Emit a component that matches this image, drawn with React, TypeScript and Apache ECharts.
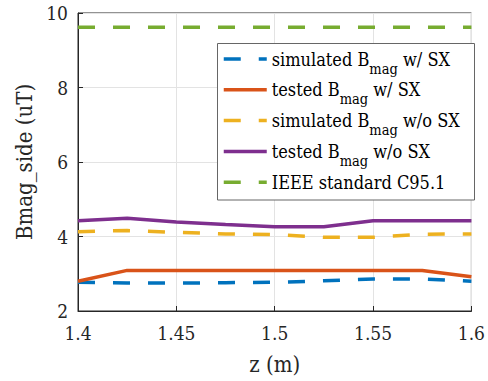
import React, { useEffect, useRef } from "react";
import * as echarts from "echarts";

const zValues = [1.4, 1.425, 1.45, 1.475, 1.5, 1.525, 1.55, 1.575, 1.6];
const simWithSX = [2.77, 2.75, 2.75, 2.76, 2.77, 2.81, 2.86, 2.86, 2.8];
const testWithSX = [2.8, 3.09, 3.09, 3.09, 3.09, 3.09, 3.09, 3.09, 2.92];
const simWithoutSX = [4.13, 4.16, 4.11, 4.07, 4.05, 3.98, 3.98, 4.06, 4.07];
const testWithoutSX = [4.42, 4.49, 4.39, 4.32, 4.26, 4.26, 4.42, 4.42, 4.42];
const ieeeStandard = [9.62, 9.62, 9.62, 9.62, 9.62, 9.62, 9.62, 9.62, 9.62];

const seriesNames = [
  "simulated Bmag w/ SX",
  "tested Bmag w/ SX",
  "simulated Bmag w/o SX",
  "tested Bmag w/o SX",
  "IEEE standard C95.1",
];
const legendParts: Record<string, [string, string, string]> = {
  "simulated Bmag w/ SX": ["simulated B", "mag", " w/ SX"],
  "tested Bmag w/ SX": ["tested B", "mag", " w/ SX"],
  "simulated Bmag w/o SX": ["simulated B", "mag", " w/o SX"],
  "tested Bmag w/o SX": ["tested B", "mag", " w/o SX"],
  "IEEE standard C95.1": ["IEEE standard C95.1", " ", ""],
};
const colors = ["#0072BD", "#D95319", "#EDB120", "#7E2F8E", "#77AC30"];
const dashed = [true, false, true, false, true];
const valueSets = [simWithSX, testWithSX, simWithoutSX, testWithoutSX, ieeeStandard];

const FONT = "DejaVu Serif Condensed";

export default function App() {
  const ref = useRef<HTMLDivElement>(null);
  useEffect(() => {
    if (!ref.current) return;
    const chart = echarts.init(ref.current, null, { renderer: "svg" });
    const series = seriesNames.map((name, i) => ({
      name,
      type: "line",
      data: zValues.map((z, k) => [z, valueSets[i][k]]),
      symbol: "none",
      lineStyle: {
        color: colors[i],
        width: 3.5,
        type: dashed[i] ? [17, 18] : "solid",
        cap: "butt",
      },
      itemStyle: { color: colors[i] },
      z: 2,
    }));
    chart.setOption({
      animation: false,
      backgroundColor: "#fff",
      textStyle: { fontFamily: FONT },
      grid: {
        left: 78,
        right: 14,
        top: 13,
        bottom: 70,
        show: true,
        borderColor: "#262626",
        borderWidth: 1,
        backgroundColor: "transparent",
      },
      xAxis: {
        type: "value",
        min: 1.4,
        max: 1.6,
        interval: 0.05,
        name: "z (m)",
        nameLocation: "middle",
        nameGap: 42,
        nameTextStyle: { fontFamily: FONT, fontSize: 22, color: "#262626" },
        axisLine: { show: true, lineStyle: { color: "#262626", width: 1 } },
        axisTick: { show: true, inside: true, length: 5, lineStyle: { color: "#262626" } },
        axisLabel: {
          fontFamily: FONT,
          fontSize: 19,
          color: "#262626",
          margin: 12,
          formatter: (v: number) => String(Math.round(v * 100) / 100),
        },
        splitLine: { show: true, lineStyle: { color: "#e3e3e3", width: 1 } },
      },
      yAxis: {
        type: "value",
        min: 2,
        max: 10,
        interval: 2,
        name: "Bmag_side (uT)",
        nameLocation: "middle",
        nameGap: 38,
        nameTextStyle: { fontFamily: FONT, fontSize: 22, color: "#262626" },
        axisLine: { show: true, lineStyle: { color: "#262626", width: 1 } },
        axisTick: { show: true, inside: true, length: 5, lineStyle: { color: "#262626" } },
        axisLabel: { fontFamily: FONT, fontSize: 19, color: "#262626", margin: 10 },
        splitLine: { show: true, lineStyle: { color: "#e3e3e3", width: 1 } },
      },
      legend: {
        orient: "vertical",
        left: 222,
        top: 42,
        padding: 0,
        itemGap: -3.2,
        itemWidth: 43,
        itemHeight: 14,
        selectedMode: false,
        data: seriesNames,
        z: 5,
        itemStyle: { opacity: 0 },
        lineStyle: { width: 3.5, cap: "butt" },
        formatter: (name: string) => {
          const p = legendParts[name];
          return `{a|${p[0]}}{s|${p[1]}}` + (p[2] ? `{a|${p[2]}}` : "");
        },
        textStyle: {
          fontFamily: FONT,
          fontSize: 18,
          color: "#000",
          rich: {
            a: { fontFamily: FONT, fontSize: 18, color: "#000", lineHeight: 21 },
            s: {
              fontFamily: FONT,
              fontSize: 14.5,
              color: "#000",
              lineHeight: 16,
              padding: [19, 0, 0, 0],
            },
          },
        },
      },
      graphic: [
        {
          type: "rect",
          z: 3,
          shape: { x: 217.5, y: 43.5, width: 257, height: 156.5 },
          style: { fill: "#fff", stroke: "#666", lineWidth: 1 },
        },
      ],
      series,
    });
    return () => chart.dispose();
  }, []);
  return <div ref={ref} style={{ width: 488, height: 381, position: "absolute", left: 0, top: 0 }} />;
}
